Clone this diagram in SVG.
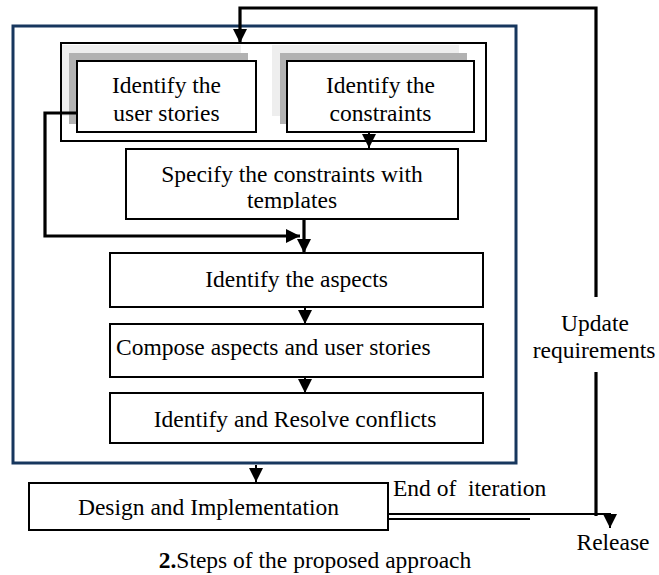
<svg xmlns="http://www.w3.org/2000/svg" width="659" height="575" viewBox="0 0 659 575">
<defs>
<style>
text{font-family:'Liberation Serif','Times New Roman','DejaVu Serif',serif;font-size:23.5px;fill:#000}
.box{fill:#fff;stroke:#000;stroke-width:2}
.thick{fill:none;stroke:#000;stroke-width:3.2}
.thin{fill:none;stroke:#000;stroke-width:2}
.c{text-anchor:middle}
</style>
<marker id="ah" markerWidth="14" markerHeight="14" viewBox="0 0 10 10" refX="10" refY="5" orient="auto" markerUnits="userSpaceOnUse">
<path d="M0,0 L10,5 L0,10 Z" fill="#000"/>
</marker>
<clipPath id="clipSpec"><rect x="127" y="150" width="330" height="59"/></clipPath>
</defs>
<rect width="659" height="575" fill="#fff"/>

<g id="frame">
<rect x="13" y="26" width="503" height="437" fill="none" stroke="#17375e" stroke-width="3"/>
</g>

<g id="group-top">
<rect x="61" y="43" width="425" height="98" class="box"/>
</g>

<g font-family="Liberation Serif, serif">
<g id="node-user-stories">
<rect x="62" y="45" width="179" height="71" fill="#eeeeee"/>
<rect x="69" y="53" width="179" height="71" fill="#b2b2b2"/>
<rect x="77" y="61" width="179" height="71" class="box"/>
<text x="166.5" y="93" class="c">Identify the</text>
<text x="166.5" y="121" class="c">user stories</text>
</g>

<g id="node-constraints">
<rect x="272" y="45" width="187" height="71" fill="#eeeeee"/>
<rect x="280" y="53" width="187" height="71" fill="#b2b2b2"/>
<rect x="287" y="61" width="187" height="71" class="box"/>
<text x="380.5" y="93" class="c">Identify the</text>
<text x="380.5" y="121" class="c">constraints</text>
</g>

<g id="node-specify">
<rect x="126" y="149" width="332" height="70" class="box"/>
<text x="292" y="182" class="c">Specify the constraints with</text>
<text x="292" y="208" class="c" clip-path="url(#clipSpec)">templates</text>
</g>

<g id="node-aspects">
<rect x="110" y="253" width="373" height="54" class="box"/>
<text x="296.5" y="287" class="c">Identify the aspects</text>
</g>

<g id="node-compose">
<rect x="110" y="324" width="373" height="53" class="box"/>
<text x="116" y="355">Compose aspects and user stories</text>
</g>

<g id="node-resolve">
<rect x="110" y="393" width="373" height="50" class="box"/>
<text x="295" y="427" class="c">Identify and Resolve conflicts</text>
</g>

<g id="node-design">
<rect x="29" y="483" width="359" height="47" class="box"/>
<text x="208.5" y="515" class="c">Design and Implementation</text>
</g>

<g id="labels">
<text x="595" y="331" class="c">Update</text>
<text x="594" y="358" class="c">requirements</text>
<text x="393" y="496" xml:space="preserve" style="white-space:pre">End of  iteration</text>
<text x="613" y="550" class="c">Release</text>
<text x="315" y="568" class="c"><tspan font-weight="bold">2.</tspan>Steps of the proposed approach</text>
</g>
</g>

<g id="connectors">
<polyline points="596,297 596,8 240,8 240,43" class="thick" marker-end="url(#ah)"/>
<line x1="596" y1="372" x2="596" y2="516" class="thick"/>
<line x1="369" y1="132" x2="369" y2="148" class="thin" marker-end="url(#ah)"/>
<polyline points="77,113 45,113 45,236 300,236" class="thick" marker-end="url(#ah)"/>
<line x1="304" y1="219" x2="304" y2="253" class="thick" marker-end="url(#ah)"/>
<line x1="305" y1="307" x2="305" y2="324" class="thin" marker-end="url(#ah)"/>
<line x1="305" y1="377" x2="305" y2="393" class="thin" marker-end="url(#ah)"/>
<line x1="256" y1="465" x2="256" y2="482" class="thin" marker-end="url(#ah)"/>
<polyline points="388,514 610,514 610,528" class="thin" marker-end="url(#ah)"/>
<line x1="388" y1="519" x2="530" y2="519" class="thin"/>
</g>
</svg>
